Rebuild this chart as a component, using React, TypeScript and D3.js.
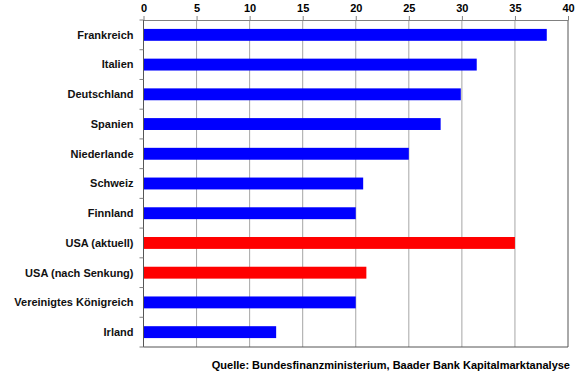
import { useEffect, useRef } from 'react';
import * as d3 from 'd3';

// Länder und Werte (von oben nach unten)
const categories = [
  'Frankreich',
  'Italien',
  'Deutschland',
  'Spanien',
  'Niederlande',
  'Schweiz',
  'Finnland',
  'USA (aktuell)',
  'USA (nach Senkung)',
  'Vereinigtes Königreich',
  'Irland',
];
const values = [38, 31.4, 29.9, 28, 25, 20.7, 20, 35, 21, 20, 12.5];
const highlighted = ['USA (aktuell)', 'USA (nach Senkung)'];
const xTicks = [0, 5, 10, 15, 20, 25, 30, 35, 40];
const source = 'Quelle: Bundesfinanzministerium, Baader Bank Kapitalmarktanalyse';

const W = 580;
const H = 375;
const FONT = "'Liberation Sans', Arial, sans-serif";

export default function App() {
  const svgRef = useRef<SVGSVGElement>(null);

  useEffect(() => {
    if (!svgRef.current) return;
    const svg = d3.select(svgRef.current);
    svg.selectAll('*').remove();

    const margin = { top: 20, right: 12, bottom: 28, left: 143.5 };
    const w = 568 - margin.left;
    const h = 347 - margin.top;
    const g = svg.append('g').attr('transform', `translate(${margin.left},${margin.top})`);

    const x = d3.scaleLinear().domain([0, 40]).range([0, w]);
    const y = d3.scaleBand().domain(categories).range([0, h]).paddingInner(0.6).paddingOuter(0.3);

    // Gitternetz
    g.selectAll('line.grid')
      .data(xTicks.slice(1))
      .join('line')
      .attr('class', 'grid')
      .attr('x1', d => x(d)).attr('x2', d => x(d))
      .attr('y1', 0).attr('y2', h)
      .attr('stroke', '#a6a6a6')
      .attr('stroke-width', 1);

    // Balken
    g.selectAll('rect.bar')
      .data(categories)
      .join('rect')
      .attr('class', 'bar')
      .attr('x', 0)
      .attr('y', d => y(d)!)
      .attr('width', (_, i) => x(values[i]))
      .attr('height', y.bandwidth())
      .attr('fill', d => (highlighted.includes(d) ? '#ff0000' : '#0000ff'));

    // Rahmen rechts und unten
    g.append('line')
      .attr('x1', w).attr('x2', w).attr('y1', 0).attr('y2', h)
      .attr('stroke', '#808080');
    g.append('line')
      .attr('x1', 0).attr('x2', w).attr('y1', h).attr('y2', h)
      .attr('stroke', '#555');

    // Obere Achse
    const xAxis = g.append('g').call(
      d3.axisTop(x).tickValues(xTicks).tickSize(4).tickSizeOuter(0).tickPadding(4)
    );
    xAxis.select('path').attr('stroke', '#808080');
    xAxis.selectAll('line').attr('stroke', '#808080');
    xAxis.selectAll('text')
      .style('font-family', FONT).style('font-size', '11px').style('font-weight', 'bold')
      .style('fill', '#000');

    // Linke Achse mit Trennstrichen zwischen Kategorien
    g.append('line')
      .attr('x1', 0).attr('x2', 0).attr('y1', 0).attr('y2', h)
      .attr('stroke', '#555');
    const step = y.step();
    const bounds = d3.range(categories.length + 1).map(i => i * (h / categories.length));
    g.selectAll('line.ytick')
      .data(bounds)
      .join('line')
      .attr('class', 'ytick')
      .attr('x1', -4).attr('x2', 0)
      .attr('y1', d => d).attr('y2', d => d)
      .attr('stroke', '#808080');
    void step;

    g.selectAll('text.cat')
      .data(categories)
      .join('text')
      .attr('class', 'cat')
      .attr('x', -10)
      .attr('y', d => y(d)! + y.bandwidth() / 2)
      .attr('dy', '0.35em')
      .attr('text-anchor', 'end')
      .style('font-family', FONT).style('font-size', '11px').style('font-weight', 'bold')
      .style('fill', '#111')
      .text(d => d);

    // Quelle
    svg.append('text')
      .attr('x', 570).attr('y', 369)
      .attr('text-anchor', 'end')
      .style('font-family', FONT).style('font-size', '11px').style('font-weight', 'bold')
      .style('fill', '#000')
      .text(source);
  }, []);

  return (
    <svg
      ref={svgRef}
      width={W}
      height={H}
      style={{ position: 'absolute', left: 0, top: 0, background: '#fff' }}
    />
  );
}
